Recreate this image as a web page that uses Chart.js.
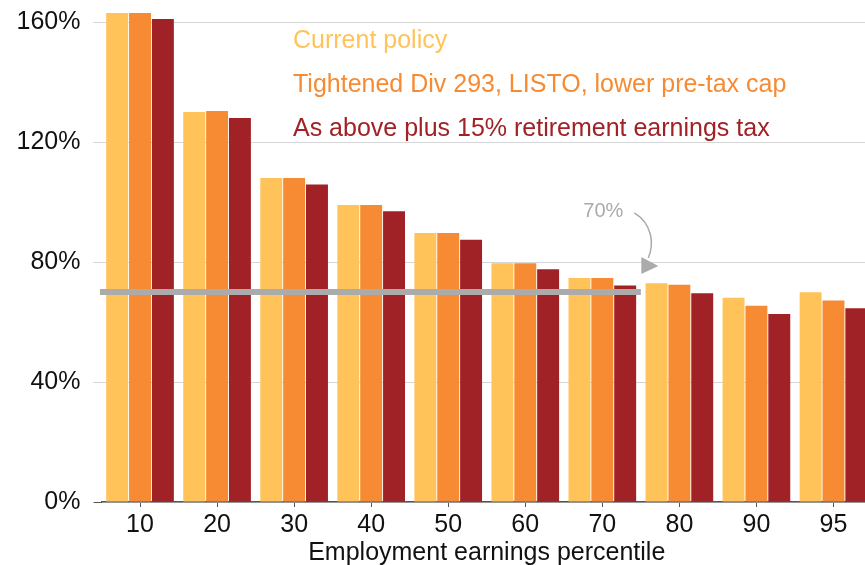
<!DOCTYPE html>
<html>
<head>
<meta charset="utf-8">
<script src="https://cdn.jsdelivr.net/npm/chart.js@4"></script>
<style>
  html, body { margin: 0; padding: 0; background: #fff; overflow: hidden; }
  #wrap { width: 872px; height: 565px; overflow: hidden; }
</style>
</head>
<body>
<div id="wrap"><canvas id="chart" width="872" height="568"></canvas></div>
<script>
// Дані графіка
const percentiles = ['10', '20', '30', '40', '50', '60', '70', '80', '90', '95'];
const currentPolicy = [163, 130, 108, 99, 89.7, 79.6, 74.7, 72.9, 68.1, 69.9];
const tightened = [163, 130.3, 108, 99, 89.7, 79.6, 74.7, 72.4, 65.4, 67.2];
const plusEarningsTax = [161, 128, 105.8, 96.9, 87.4, 77.6, 72.2, 69.6, 62.7, 64.6];
const seriesNames = [
    'Current policy',
    'Tightened Div 293, LISTO, lower pre-tax cap',
    'As above plus 15% retirement earnings tax'
];
const seriesColors = ['#FFC35A', '#F68B33', '#A02226'];
const yTicks = [0, 40, 80, 120, 160];
const refLevel = 70;          // сіра лінія 70%
const refLastCategory = '70'; // лінія закінчується після цієї групи

const FONT = '"Liberation Sans", Arial, sans-serif';

// Плагін: сіра лінія, підпис 70% зі стрілкою та легенда текстом
const overlayPlugin = {
    id: 'overlay',
    afterDatasetsDraw(chart) {
        const { ctx, scales: { x, y } } = chart;
        const lastIdx = percentiles.indexOf(refLastCategory);

        // сіра лінія
        ctx.save();
        ctx.strokeStyle = '#ABABAB';
        ctx.lineWidth = 6;
        ctx.beginPath();
        ctx.moveTo(x.getPixelForValue(-0.5) - 1.5, y.getPixelForValue(refLevel));
        ctx.lineTo(x.getPixelForValue(lastIdx + 0.5), y.getPixelForValue(refLevel));
        ctx.stroke();

        // підпис "70%"
        ctx.fillStyle = '#ABABAB';
        ctx.font = '20px ' + FONT;
        ctx.textAlign = 'center';
        ctx.textBaseline = 'middle';
        const tx = x.getPixelForValue(lastIdx);
        const ty = y.getPixelForValue(96.7);
        ctx.fillText(refLevel + '%', tx + 1, ty);

        // вигнута стрілка
        ctx.strokeStyle = '#ABABAB';
        ctx.lineWidth = 1.5;
        ctx.beginPath();
        ctx.moveTo(tx + 32, ty + 1);
        ctx.bezierCurveTo(tx + 50, ty + 12, tx + 52, ty + 32, tx + 46, ty + 46);
        ctx.stroke();
        ctx.beginPath();
        ctx.moveTo(tx + 39, ty + 45);
        ctx.lineTo(tx + 39, ty + 62);
        ctx.lineTo(tx + 56, ty + 54);
        ctx.closePath();
        ctx.fill();

        // легенда
        ctx.font = '25px ' + FONT;
        ctx.textAlign = 'left';
        seriesNames.forEach((name, i) => {
            ctx.fillStyle = seriesColors[i];
            ctx.fillText(name, 293, 41 + i * 44);
        });
        ctx.restore();
    }
};

const ctx = document.getElementById('chart').getContext('2d');
const allSeries = [currentPolicy, tightened, plusEarningsTax];

new Chart(ctx, {
    type: 'bar',
    data: {
        labels: percentiles,
        datasets: allSeries.map((values, i) => ({
            label: seriesNames[i],
            data: values,
            backgroundColor: seriesColors[i],
            borderWidth: 0,
            barPercentage: 0.96,
            categoryPercentage: 0.89
        }))
    },
    options: {
        responsive: false,
        animation: false,
        layout: { padding: 0 },
        plugins: {
            legend: { display: false },
            tooltip: { enabled: false }
        },
        scales: {
            x: {
                grid: {
                    offset: false,
                    drawOnChartArea: false,
                    drawTicks: true,
                    tickLength: 5,
                    tickColor: '#555'
                },
                border: { display: true, color: '#555', width: 1.5 },
                ticks: {
                    color: '#111',
                    font: { family: FONT, size: 25 },
                    padding: 3,
                    maxRotation: 0
                },
                title: {
                    display: true,
                    text: 'Employment earnings percentile',
                    color: '#111',
                    font: { family: FONT, size: 25 },
                    padding: { top: 0, bottom: 0 }
                },
                afterFit(scale) { scale.height = 66; }
            },
            y: {
                min: 0,
                max: 163,
                afterBuildTicks(scale) {
                    scale.ticks = yTicks.map(v => ({ value: v }));
                },
                grid: {
                    color: '#D6D6D6',
                    lineWidth: 1,
                    drawTicks: true,
                    tickLength: 8,
                    tickColor: c => (c.tick && c.tick.value === 0 ? '#555' : '#D6D6D6')
                },
                border: { display: false },
                ticks: {
                    color: '#111',
                    font: { family: FONT, size: 25 },
                    padding: 13,
                    callback: v => v + '%'
                },
                afterFit(scale) {
                    scale.width = 101.5;
                    scale.paddingTop = 13;
                    scale.paddingBottom = 0;
                }
            }
        }
    },
    plugins: [overlayPlugin]
});
</script>
</body>
</html>
